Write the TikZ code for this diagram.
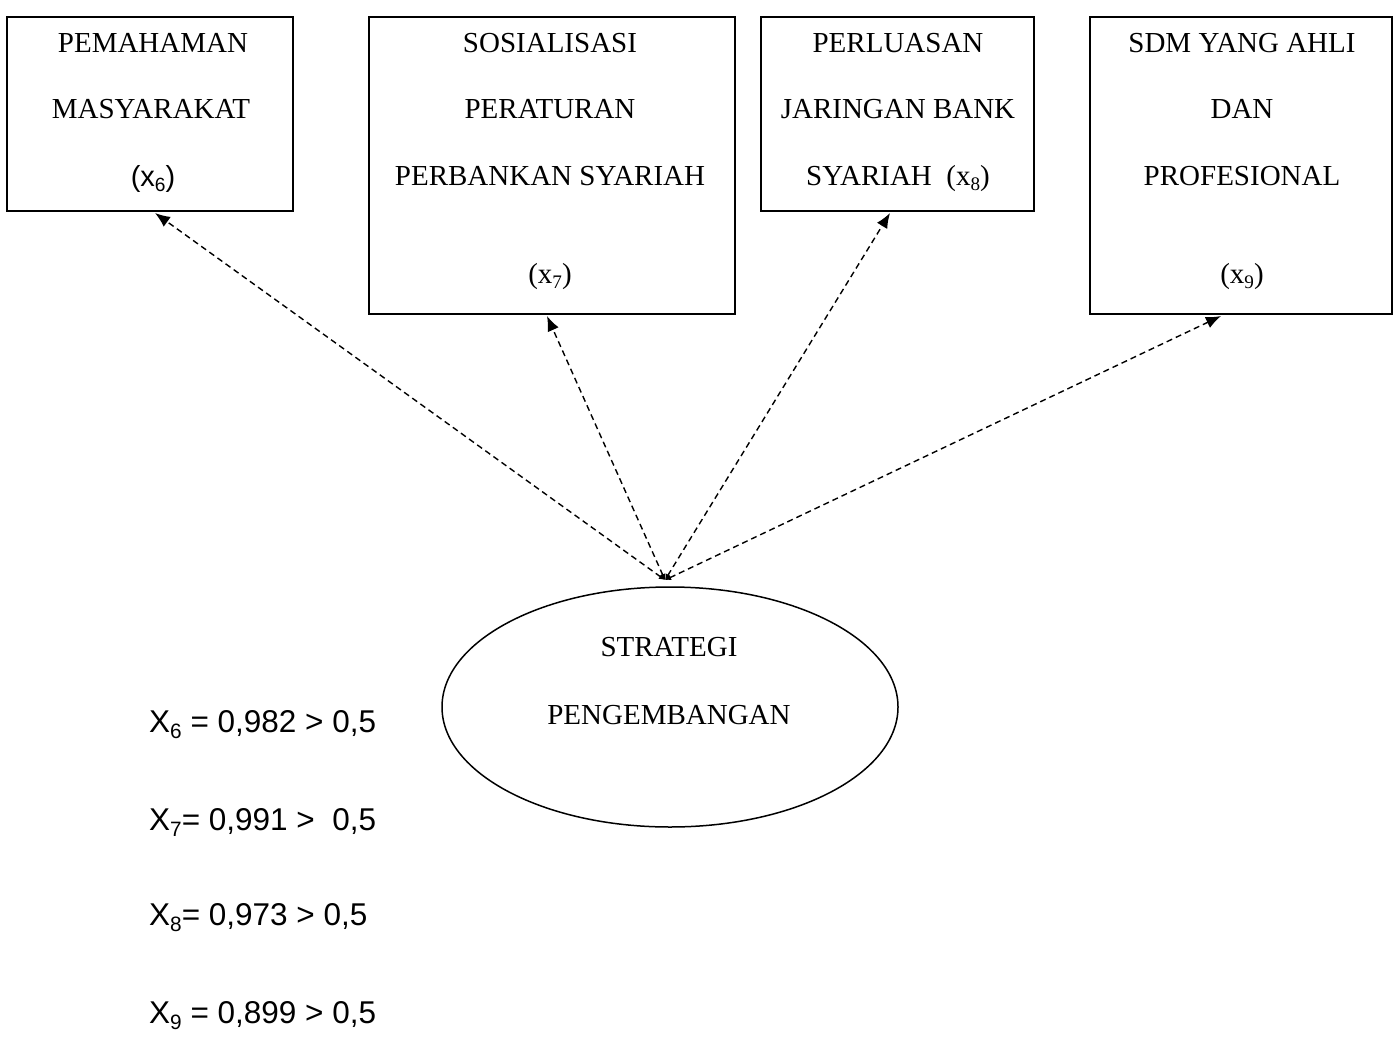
\documentclass[tikz,border=0pt]{standalone}
\usepackage{fontspec}
\usepackage{graphicx}
\setmainfont{Liberation Serif}
\newfontfamily\arialf{Liberation Sans}
\usetikzlibrary{arrows.meta,shapes.geometric}
\newcommand\lsub[1]{\raisebox{-0.2em}{\scalebox{0.66}{#1}}}
\begin{document}
\begin{tikzpicture}[x=1pt,y=-1pt,
  boxnode/.style={draw,line width=1.6pt,inner sep=0pt,outer sep=0pt,anchor=north west},
  txt/.style={anchor=base,inner sep=0pt,font=\fontsize{29}{31}\selectfont},
  eqt/.style={anchor=base west,inner sep=0pt,font=\arialf\fontsize{31.5}{33}\selectfont},
  link/.style={line width=1.4pt,dash pattern=on 6pt off 4pt,{Latex[length=6pt,width=6pt]}-{Latex[length=15pt,width=12pt]}}]
\path[use as bounding box] (0,0) rectangle (1399,1036);
% boxes
\node[boxnode,minimum width=286pt,minimum height=194pt] (b1) at (7,17) {};
\node[boxnode,minimum width=366pt,minimum height=297pt] (b2) at (369,17) {};
\node[boxnode,minimum width=273pt,minimum height=194pt] (b3) at (761,17) {};
\node[boxnode,minimum width=302pt,minimum height=297pt] (b4) at (1090,17) {};
% box texts
\node[txt] (b1a) at (153,52) {PEMAHAMAN};
\node[txt] (b1b) at (151,118) {MASYARAKAT};
\node[txt,font=\arialf\fontsize{29}{31}\selectfont] (b1c) at (153,186) {(x\lsub{6})};
\node[txt] (b2a) at (550,52) {SOSIALISASI};
\node[txt] (b2b) at (550,118) {PERATURAN};
\node[txt] (b2c) at (550,185) {PERBANKAN SYARIAH};
\node[txt] (b2d) at (550,283) {(x\lsub{7})};
\node[txt] (b3a) at (898,52) {PERLUASAN};
\node[txt] (b3b) at (898,118) {JARINGAN BANK};
\node[txt] (b3c) at (898,185) {SYARIAH~~(x\lsub{8})};
\node[txt] (b4a) at (1242,52) {SDM YANG AHLI};
\node[txt] (b4b) at (1242,118) {DAN};
\node[txt] (b4c) at (1242,185) {PROFESIONAL};
\node[txt] (b4d) at (1242,283) {(x\lsub{9})};
% ellipse
\node[draw,ellipse,line width=1.5pt,inner sep=0pt,minimum width=456pt,minimum height=240pt] (e) at (670,707) {};
\node[txt] (e1) at (669,656) {STRATEGI};
\node[txt] (e2) at (669,724) {PENGEMBANGAN};
% connectors
\coordinate (top) at (665,580);
\coordinate (t1) at (155,213);
\coordinate (t2) at (547,316);
\coordinate (t3) at (890,213);
\coordinate (t4) at (1221,316);
\draw[link] (top) -- (t1);
\draw[link] (top) -- (t2);
\draw[link] (top) -- (t3);
\draw[link] (top) -- (t4);
% equations
\node[eqt] (q6) at (149,732) {X\lsub{6} = 0,982 > 0,5};
\node[eqt] (q7) at (149,830) {X\lsub{7}= 0,991 >~~0,5};
\node[eqt] (q8) at (149,925) {X\lsub{8}= 0,973 > 0,5};
\node[eqt] (q9) at (149,1023) {X\lsub{9} = 0,899 > 0,5};
\end{tikzpicture}
\end{document}
